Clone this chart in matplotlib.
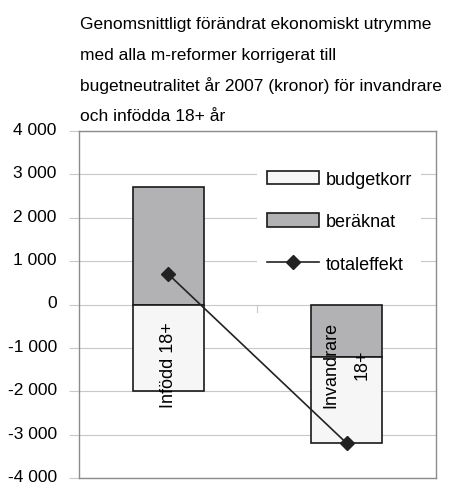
import matplotlib
matplotlib.use("Agg")
import matplotlib.pyplot as plt
import matplotlib.transforms as mtransforms
from matplotlib.patches import Patch
from matplotlib.lines import Line2D
from matplotlib.ticker import FuncFormatter

plt.rcParams['font.family'] = ['Liberation Sans', 'DejaVu Sans']
plt.rcParams['axes.unicode_minus'] = False

# data
categories = ["Infödd 18+", "Invandrare\n18+"]
beraknat = [2700, -1200]
budgetkorr = [-2000, -2000]
totaleffekt = [700, -3200]
yticks = [-4000, -3000, -2000, -1000, 0, 1000, 2000, 3000, 4000]
series_names = ["budgetkorr", "beräknat", "totaleffekt"]

title_lines = ["Genomsnittligt förändrat ekonomiskt utrymme",
               "med alla m-reformer korrigerat till",
               "bugetneutralitet år 2007 (kronor) för invandrare",
               "och infödda 18+ år"]

col_budget = "#f6f6f6"
col_berak = "#b2b2b4"
edge = "#1a1a1a"
grid_col = "#c8c8c8"
spine_col = "#8c8c8c"
FS = 13

W, H = 452, 485
fig = plt.figure(figsize=(W / 100, H / 100), dpi=100)
ax = fig.add_axes([79 / W, 1 - 479 / H, 357 / W, 347 / H])

x = list(range(len(categories)))

# stacked bars, negative parts stacked below the negative beraknat
ber_bottom = [0, 0]
bud_bottom = [min(b, 0) if k < 0 else max(b, 0) for b, k in zip(beraknat, budgetkorr)]
ax.bar(x, beraknat, width=0.4, bottom=ber_bottom, color=col_berak,
       edgecolor=edge, linewidth=1.2, zorder=3)
ax.bar(x, budgetkorr, width=0.4, bottom=bud_bottom, color=col_budget,
       edgecolor=edge, linewidth=1.2, zorder=3)

ax.plot(x, totaleffekt, color="#222222", linewidth=1.2, marker="D",
        markersize=7.5, markerfacecolor="#222222", zorder=5)

ax.set_xlim(-0.5, 1.5)
ax.set_ylim(-4000, 4000)
ax.set_yticks(yticks)
ax.yaxis.set_major_formatter(
    FuncFormatter(lambda v, p: f"{v:,.0f}".replace(",", " ")))
ax.tick_params(axis='y', labelsize=12.5, length=7, color=grid_col, pad=9)
ax.tick_params(axis='x', bottom=False, labelbottom=False)
ax.yaxis.grid(True, color=grid_col, linewidth=0.8, zorder=0)
ax.set_axisbelow(True)
for s in ax.spines.values():
    s.set_color(spine_col)
    s.set_linewidth(1.0)

# lift the tick labels slightly, as in the original
lift = mtransforms.ScaledTranslation(0, 3 / 100, fig.dpi_scale_trans)
for lab in ax.get_yticklabels():
    lab.set_transform(lab.get_transform() + lift)

# category labels, rotated, just below the zero line
for xi, lab in zip(x, categories):
    parts = lab.split("\n")
    n = len(parts)
    for j, part in enumerate(parts):
        dx = (j - (n - 1) / 2) * 31.5 * 0.72
        ax.annotate(part, (xi, 0), xytext=(dx, -43), textcoords="offset points",
                    rotation=90, ha="center", va="center", fontsize=FS,
                    zorder=6)

# small category tick at the divider on the zero line
ax.plot([0.5, 0.5], [0, -170], color=grid_col, linewidth=0.8, zorder=1)

handles = [Patch(facecolor=col_budget, edgecolor=edge, linewidth=1.2),
           Patch(facecolor=col_berak, edgecolor=edge, linewidth=1.2),
           Line2D([], [], color="#222222", linewidth=1.2, marker="D",
                  markersize=7.5)]
leg = ax.legend(handles, series_names,
                loc="upper left", bbox_to_anchor=(0.50, 0.912),
                borderaxespad=0, fontsize=FS, frameon=True, facecolor="white",
                edgecolor="none", framealpha=1, fancybox=False,
                handlelength=2.88, handleheight=0.75, labelspacing=1.42,
                handletextpad=0.39, borderpad=0.5)
leg.set_zorder(4)

baselines = [29, 60, 91, 121]
for line, b in zip(title_lines, baselines):
    fig.text(80 / W, 1 - b / H, line, ha="left", va="baseline", fontsize=12.5)

fig.savefig("out.png", dpi=100)
